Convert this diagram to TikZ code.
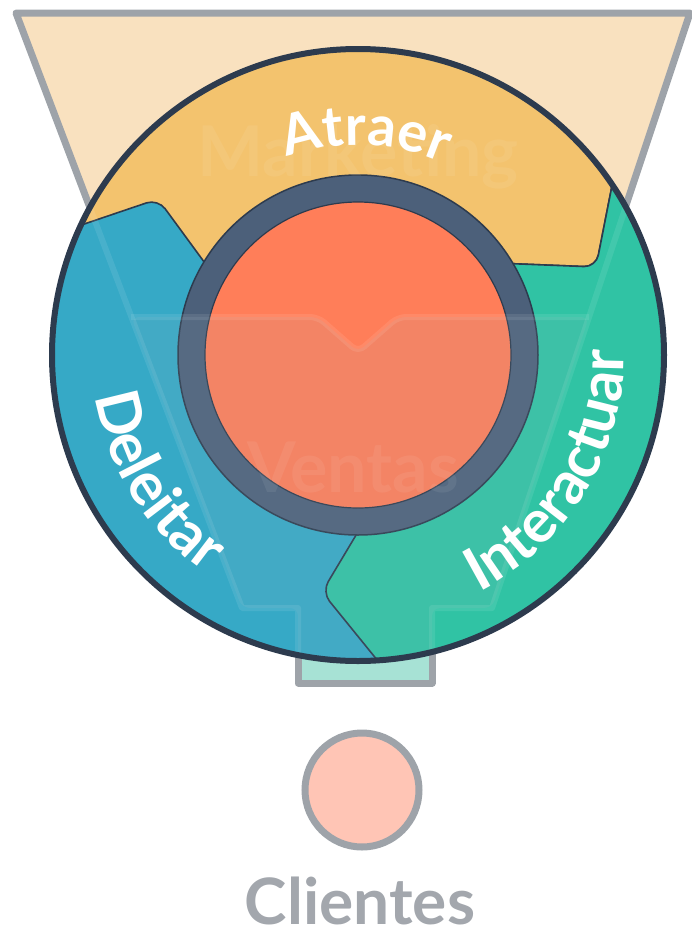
\documentclass[tikz,border=0pt]{standalone}
\usepackage{fontspec}
\setmainfont{Lato}
\usetikzlibrary{calc,decorations.text}
\definecolor{funnelfill}{HTML}{F9E1BF}
\definecolor{grayline}{HTML}{9EA3A9}
\definecolor{yel}{HTML}{F3C36E}
\definecolor{blu}{HTML}{36A9C6}
\definecolor{grn}{HTML}{30C3A4}
\definecolor{navy}{HTML}{2D3B4E}
\definecolor{ringc}{HTML}{4C607A}
\definecolor{orng}{HTML}{FF7E59}
\definecolor{neckfill}{HTML}{A7E2D5}
\definecolor{clifill}{HTML}{FFC5B5}
\definecolor{clitext}{HTML}{A3A7AD}
\definecolor{veil}{HTML}{9FB5C0}
\newcommand\ringfont{\fontsize{56}{56}\selectfont\bfseries}
\newcommand\sidefont{\fontsize{60}{60}\selectfont\bfseries}
\tikzset{
  grayedge/.style={grayline, line width=7, line join=round},
  segment/.style={draw=navy, line width=1.6, rounded corners=12pt},
  faintline/.style={white, opacity=0.09, line width=6, line join=round},
  fainttext/.style={white, opacity=0.07, font=\fontsize{70}{70}\selectfont\bfseries, anchor=base},
  ringtext/.style={decorate, decoration={text along path, text={|\ringfont|#1}, text align=center, text color=white}},
  sidetext/.style={decorate, decoration={text along path, text={|\sidefont|#1}, text align=center, text color=white}}
}
\begin{document}
\begin{tikzpicture}[x=1pt,y=-1pt]
\useasboundingbox (0,0) rectangle (692,935);
\coordinate (C) at (358,355);
% funnel
\fill[funnelfill] (16,13) -- (690,13) -- (492,608) -- (242,608) -- cycle;
\fill[neckfill] (298,600) rectangle (432,683);
\draw[grayedge] (242,608) -- (16,13) -- (690,13) -- (492,608);
\draw[grayedge] (298,600) -- (298,683) -- (432,683) -- (432,600);
% ring segments
\begin{scope}
\clip (C) circle[radius=306];
\fill[blu] (C) circle[radius=306];
\filldraw[yel, segment] (40,239) -- (158,199) -- (232,300) -- (358,355) -- (470,262) -- (596,267) -- (621,140) -- (640,-10) -- (60,-10) -- cycle;
\filldraw[grn, segment] (358,355) -- (470,262) -- (596,267) -- (621,140) -- (720,140) -- (720,760) -- (395,682) -- (322,592) -- (380,495) -- cycle;
\end{scope}
% inner ring and disc
\fill[ringc] (C) circle[radius=180];
\draw[navy, line width=1.5] (C) circle[radius=180];
\fill[orng] (C) circle[radius=153];
\draw[navy, line width=1.2] (C) circle[radius=153];
% faint funnel seen through the wheel
\begin{scope}
\clip (C) circle[radius=304];
\fill[veil, opacity=0.12, rounded corners=8pt] (131,317) -- (318,317) -- (358,352) -- (398,317) -- (589,317) -- (492,608) -- (432,608) -- (432,700) -- (298,700) -- (298,608) -- (242,608) -- cycle;
\draw[faintline] (87,200) -- (242,608) -- (298,608) -- (298,700);
\draw[faintline] (628,200) -- (492,608) -- (432,608) -- (432,700);
\draw[faintline, rounded corners=8pt] (131,317) -- (318,317) -- (358,352) -- (398,317) -- (589,317);
\node[fainttext] (mkt) at (358,176) {Marketing};
\node[fainttext] (vts) at (353,492) {Ventas};
\end{scope}
% outer outline
\draw[navy, line width=6] (C) circle[radius=306];
% ring labels
\path[ringtext=Atraer] ($(C)+(-150:210)$) arc[start angle=-150, end angle=-26, radius=210];
\path[sidetext=Deleitar] ($(C)+(200:266)$) arc[start angle=200, end angle=96, radius=266];
\path[sidetext=Interactuar] ($(C)+(84:266)$) arc[start angle=84, end angle=-22, radius=266];
% clients
\draw[grayline, line width=7, fill=clifill] (362,790) circle[radius=57];
\node[font=\fontsize{64}{64}\selectfont\bfseries, text=clitext, anchor=base, inner sep=0pt] (cli) at (360,924) {Clientes};
\end{tikzpicture}
\end{document}
